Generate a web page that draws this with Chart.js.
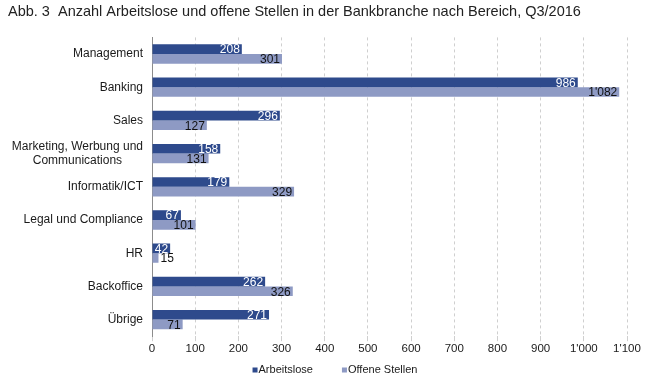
<!DOCTYPE html>
<html>
<head>
<meta charset="utf-8">
<script src="https://cdn.jsdelivr.net/npm/chart.js@4"></script>
<style>
  html, body { margin: 0; padding: 0; background: #fff; }
  #wrap { width: 671px; height: 387px; }
</style>
</head>
<body>
<div id="wrap"><canvas id="barChart"></canvas></div>
<script>
// Daten aus der Abbildung
var bereiche = ['Management', 'Banking', 'Sales', ['Marketing, Werbung und', 'Communications'],
    'Informatik/ICT', 'Legal und Compliance', 'HR', 'Backoffice', 'Übrige'];
var arbeitslose = [208, 986, 296, 158, 179, 67, 42, 262, 271];
var offeneStellen = [301, 1082, 127, 131, 329, 101, 15, 326, 71];
var xTicks = [0, 100, 200, 300, 400, 500, 600, 700, 800, 900, 1000, 1100];

var dunkel = '#2e4a8c';
var hell = '#8e9ac4';
var schrift = 'Liberation Sans, Arial, sans-serif';

function formatZahl(v) {
    return String(v).replace(/\B(?=(\d{3})+(?!\d))/g, "'");
}

// Kategorien links, mehrzeilige zentriert
var kategorienPlugin = {
    id: 'kategorien',
    afterDraw: function(chart) {
        var ctx = chart.ctx;
        var y = chart.scales.y;
        var right = chart.chartArea.left - 9;
        ctx.save();
        ctx.font = '12px ' + schrift;
        ctx.fillStyle = '#1a1a1a';
        ctx.textBaseline = 'middle';
        ctx.textAlign = 'left';
        bereiche.forEach(function(lab, i) {
            var lines = Array.isArray(lab) ? lab : [lab];
            var w = Math.max.apply(null, lines.map(function(l) { return ctx.measureText(l).width; }));
            var cy = y.getPixelForValue(i);
            var lh = 14;
            lines.forEach(function(l, j) {
                var lw = ctx.measureText(l).width;
                var yy = cy + (j - (lines.length - 1) / 2) * lh;
                ctx.fillText(l, right - w + (w - lw) / 2, yy);
            });
        });
        ctx.restore();
    }
};

// Werte an den Balkenenden
var wertePlugin = {
    id: 'werte',
    afterDatasetsDraw: function(chart) {
        var ctx = chart.ctx;
        ctx.save();
        ctx.font = '12px ' + schrift;
        ctx.textBaseline = 'middle';
        chart.data.datasets.forEach(function(ds, di) {
            var meta = chart.getDatasetMeta(di);
            meta.data.forEach(function(bar, i) {
                var txt = formatZahl(ds.data[i]);
                var tw = ctx.measureText(txt).width;
                var breite = bar.x - bar.base;
                if (tw + 3 <= breite) {
                    ctx.textAlign = 'right';
                    ctx.fillStyle = di === 0 ? '#ffffff' : '#111111';
                    ctx.fillText(txt, bar.x - 2, bar.y + 1);
                } else {
                    ctx.textAlign = 'left';
                    ctx.fillStyle = '#111111';
                    ctx.fillText(txt, bar.x + 2, bar.y + 1);
                }
            });
        });
        ctx.restore();
    }
};

// Legende unten, zentriert
var legendePlugin = {
    id: 'legende',
    afterDraw: function(chart) {
        var ctx = chart.ctx;
        ctx.save();
        ctx.font = '11px ' + schrift;
        ctx.textBaseline = 'middle';
        ctx.textAlign = 'left';
        var items = chart.data.datasets.map(function(ds) {
            return { text: ds.label, color: ds.backgroundColor, w: 7 + ctx.measureText(ds.label).width };
        });
        var gap = 28;
        var total = items.reduce(function(s, it) { return s + it.w; }, 0) + gap * (items.length - 1);
        var x = (chart.width - total) / 2;
        var y = 370;
        items.forEach(function(it) {
            ctx.fillStyle = it.color;
            ctx.fillRect(x, y - 2.5, 5, 5);
            ctx.fillStyle = '#1a1a1a';
            ctx.fillText(it.text, x + 6, y);
            x += it.w + gap;
        });
        ctx.restore();
    }
};

new Chart(document.querySelector('#barChart'), {
    type: 'bar',
    data: {
        labels: bereiche,
        datasets: [{
            label: 'Arbeitslose',
            data: arbeitslose,
            backgroundColor: dunkel,
            barPercentage: 1.0,
            categoryPercentage: 0.58
        }, {
            label: 'Offene Stellen',
            data: offeneStellen,
            backgroundColor: hell,
            barPercentage: 1.0,
            categoryPercentage: 0.58
        }]
    },
    options: {
        indexAxis: 'y',
        responsive: true,
        maintainAspectRatio: false,
        animation: false,
        layout: { padding: { left: 8, right: 44, top: 0, bottom: 30 } },
        scales: {
            x: {
                min: 0,
                max: 1100,
                afterBuildTicks: function(scale) {
                    scale.ticks = xTicks.map(function(v) { return { value: v }; });
                },
                ticks: {
                    callback: function(v) { return formatZahl(v); },
                    color: '#1a1a1a',
                    font: { family: schrift, size: 11.5 },
                    padding: 1,
                    maxRotation: 0
                },
                grid: {
                    color: '#cfcfcf',
                    tickLength: 5,
                    tickColor: '#cfcfcf'
                },
                border: { display: false, dash: [3, 3] }
            },
            y: {
                afterFit: function(scale) { scale.width = 144; },
                ticks: { display: false },
                grid: { display: false },
                border: { display: true, color: '#8c8c8c', width: 1 }
            }
        },
        plugins: {
            title: {
                display: true,
                text: 'Abb. 3  Anzahl Arbeitslose und offene Stellen in der Bankbranche nach Bereich, Q3/2016',
                align: 'start',
                color: '#222222',
                font: { family: schrift, size: 14.5, weight: 'normal' },
                padding: { top: 3, bottom: 17 }
            },
            legend: { display: false },
            tooltip: { enabled: false }
        }
    },
    plugins: [kategorienPlugin, wertePlugin, legendePlugin]
});
</script>
</body>
</html>
